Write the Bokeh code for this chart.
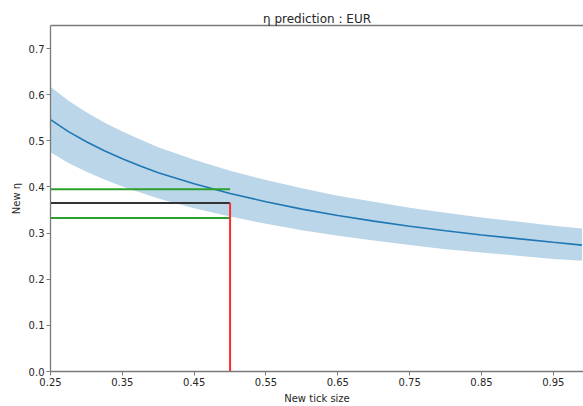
from bokeh.plotting import figure
from bokeh.embed import file_html
from bokeh.resources import INLINE
from bokeh.models import FixedTicker, PrintfTickFormatter, LinearAxis, Range1d, ColumnDataSource

# Data
tick_size = [0.25, 0.275, 0.30, 0.325, 0.35, 0.375, 0.40, 0.45, 0.50, 0.55, 0.60,
             0.65, 0.70, 0.75, 0.80, 0.85, 0.90, 0.95, 0.99]
eta_pred = [0.546, 0.520, 0.498, 0.4785, 0.461, 0.4455, 0.431, 0.407, 0.386, 0.368, 0.352,
            0.338, 0.326, 0.315, 0.305, 0.296, 0.288, 0.280, 0.274]
eta_upper = [0.617, 0.587, 0.562, 0.540, 0.520, 0.503, 0.486, 0.459, 0.435, 0.415, 0.397,
             0.381, 0.368, 0.355, 0.344, 0.334, 0.325, 0.316, 0.310]
eta_lower = [0.475, 0.452, 0.433, 0.416, 0.401, 0.388, 0.375, 0.354, 0.336, 0.320, 0.306,
             0.294, 0.284, 0.274, 0.265, 0.258, 0.251, 0.244, 0.240]

current_tick = 0.5
current_eta = 0.365
ci_high = 0.395
ci_low = 0.333
x_start = 0.25

x_ticks = [0.25, 0.35, 0.45, 0.55, 0.65, 0.75, 0.85, 0.95]
y_ticks = [0.0, 0.1, 0.2, 0.3, 0.4, 0.5, 0.6, 0.7]

FONT = "DejaVu Sans"
SPINE = "#7a7a7a"
TXT = "#262626"

p = figure(width=583, height=406, output_backend="svg", toolbar_location=None,
           x_range=Range1d(0.25, 0.992), y_range=Range1d(0.0, 0.75),
           min_border_left=50, min_border_right=0, min_border_top=25, min_border_bottom=30)
p.title.text = "η prediction : EUR"
p.title.align = "center"
p.title.text_font = FONT
p.title.text_font_size = "12px"
p.title.text_font_style = "normal"
p.title.text_color = TXT
p.title.offset = 0
p.title.standoff = 0

p.grid.visible = False
p.outline_line_color = None
p.background_fill_color = "white"
p.border_fill_color = "white"

src = ColumnDataSource(dict(x=tick_size, y=eta_pred, lo=eta_lower, hi=eta_upper))
p.varea(x="x", y1="lo", y2="hi", source=src, fill_color="#1f77b4", fill_alpha=0.3)
p.line(x="x", y="y", source=src, line_color="#1f77b4", line_width=1.6)

p.segment(x0=[x_start], y0=[ci_high], x1=[current_tick], y1=[ci_high], line_color="#2ca02c", line_width=2)
p.segment(x0=[x_start], y0=[ci_low], x1=[current_tick], y1=[ci_low], line_color="#2ca02c", line_width=2)
p.segment(x0=[x_start], y0=[current_eta], x1=[current_tick], y1=[current_eta], line_color="#333333", line_width=2)
p.segment(x0=[current_tick], y0=[0.0], x1=[current_tick], y1=[current_eta], line_color="#ff2a2a", line_width=2)

for ax in (p.xaxis[0], p.yaxis[0]):
    ax.axis_line_color = SPINE
    ax.axis_line_width = 1.3
    ax.major_tick_line_color = SPINE
    ax.major_tick_out = 4
    ax.major_tick_in = 0
    ax.minor_tick_line_color = None
    ax.major_label_text_font = FONT
    ax.major_label_text_font_size = "10px"
    ax.major_label_text_color = TXT
    ax.major_label_standoff = 2
    ax.axis_label_text_font = FONT
    ax.axis_label_text_font_size = "10px"
    ax.axis_label_text_font_style = "normal"
    ax.axis_label_text_color = TXT
    ax.axis_label_standoff = 4

p.xaxis[0].ticker = FixedTicker(ticks=x_ticks)
p.xaxis[0].formatter = PrintfTickFormatter(format="%.2f")
p.xaxis[0].axis_label = "New tick size"
p.yaxis[0].ticker = FixedTicker(ticks=y_ticks)
p.yaxis[0].formatter = PrintfTickFormatter(format="%.1f")
p.yaxis[0].axis_label = "New η"

top = LinearAxis(ticker=FixedTicker(ticks=[]), major_label_text_font_size="0px",
                 axis_line_color=SPINE, axis_line_width=1.3, major_tick_line_color=None,
                 minor_tick_line_color=None)
p.add_layout(top, "above")

open("out.html", "w").write(file_html(p, INLINE))
